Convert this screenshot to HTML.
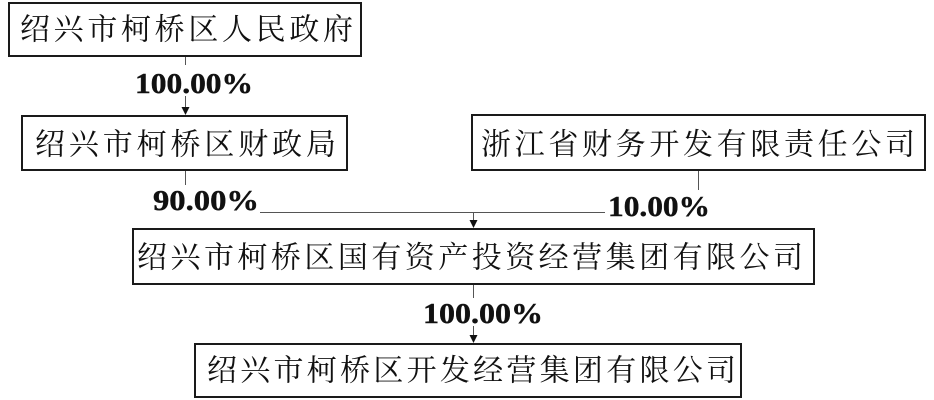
<!DOCTYPE html>
<html><head><meta charset="utf-8"><style>
html,body{margin:0;padding:0;background:#fff;}
svg{display:block;}
.cn{font-family:"Liberation Serif","Noto Serif CJK SC","Noto Sans CJK SC",serif;font-size:30px;fill:#111;}
.pct{font-family:"Liberation Serif","Times New Roman",serif;font-weight:bold;font-size:28px;fill:#111;stroke:#111;stroke-width:0.4;}
</style></head><body>
<svg width="934" height="400" viewBox="0 0 934 400" xmlns="http://www.w3.org/2000/svg">
<g fill="none" stroke="#1a1a1a" stroke-width="2">
<rect x="9" y="3" width="352" height="53"/>
<rect x="22" y="116" width="325" height="54"/>
<rect x="472" y="115" width="453" height="55"/>
<rect x="133" y="229" width="681" height="55"/>
<rect x="195" y="344" width="546" height="53"/>
</g>
<g stroke="#555" stroke-width="1" fill="none">
<line x1="185.5" y1="57" x2="185.5" y2="65"/>
<line x1="185.5" y1="96" x2="185.5" y2="108"/>
<line x1="185.5" y1="171" x2="185.5" y2="185"/>
<line x1="260" y1="212.5" x2="605" y2="212.5"/>
<line x1="473.5" y1="212" x2="473.5" y2="221"/>
<line x1="698.5" y1="171" x2="698.5" y2="190"/>
<line x1="473.5" y1="285" x2="473.5" y2="298"/>
<line x1="473.5" y1="326" x2="473.5" y2="336"/>
</g>
<g fill="#111">
<polygon points="181.5,107 189.5,107 185.5,115"/>
<polygon points="469.5,220 477.5,220 473.5,228"/>
<polygon points="469.5,335 477.5,335 473.5,343"/>
</g>
<text class="cn" x="20" y="39.5" textLength="333" lengthAdjust="spacing">绍兴市柯桥区人民政府</text>
<text class="cn" x="35" y="154.5" textLength="301" lengthAdjust="spacing">绍兴市柯桥区财政局</text>
<text class="cn" x="481" y="154.5" textLength="434" lengthAdjust="spacing">浙江省财务开发有限责任公司</text>
<text class="cn" x="137" y="267.5" textLength="666" lengthAdjust="spacing">绍兴市柯桥区国有资产投资经营集团有限公司</text>
<text class="cn" x="207" y="380.5" textLength="529" lengthAdjust="spacing">绍兴市柯桥区开发经营集团有限公司</text>
<text class="pct" x="135" y="93" textLength="118" lengthAdjust="spacingAndGlyphs">100.00%</text>
<text class="pct" x="153" y="210" textLength="106" lengthAdjust="spacingAndGlyphs">90.00%</text>
<text class="pct" x="608" y="216" textLength="102" lengthAdjust="spacingAndGlyphs">10.00%</text>
<text class="pct" x="423" y="323" textLength="120" lengthAdjust="spacingAndGlyphs">100.00%</text>
</svg>
</body></html>
